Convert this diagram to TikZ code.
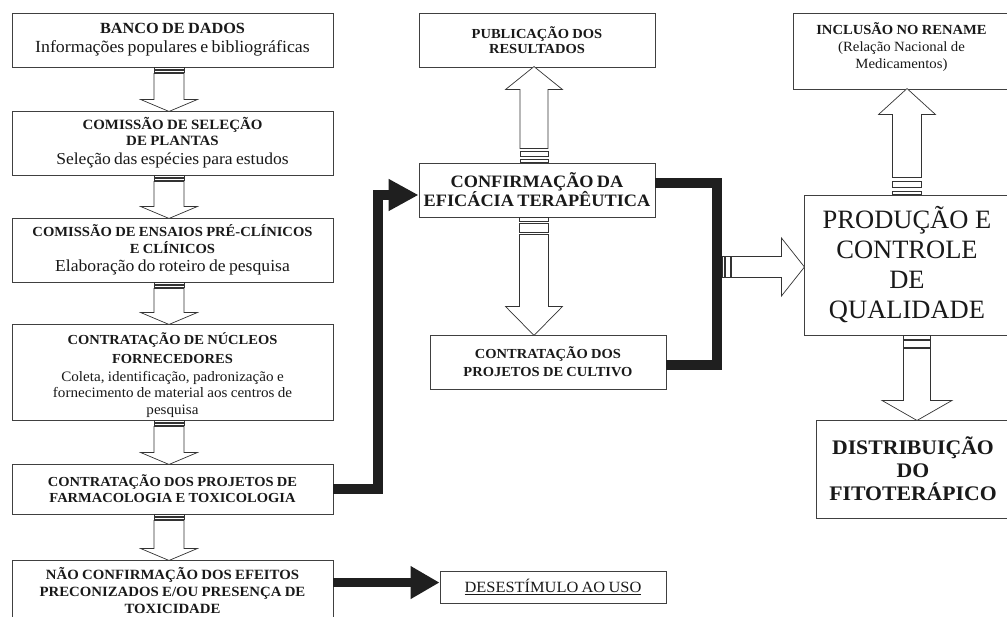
\documentclass[tikz,border=0pt]{standalone}
\usepackage{fontspec}
\setmainfont[FakeStretch=1.05]{Liberation Serif}
\newfontfamily\plainserif{Liberation Serif}
\usetikzlibrary{arrows.meta,calc}
\tikzset{
  box/.style={draw=black!75, line width=0.9bp, rectangle, inner sep=0pt, align=center, text=black!90},
  txt/.style={inner sep=0pt, align=center, text=black!90},
  hollow/.style={draw=black!80, line width=0.7bp, fill=white, line join=miter},
  blkline/.style={draw=black!88, line width=10bp, line join=miter},
  blk/.style={blkline, -{Triangle[length=30bp,width=30bp]}},
}
\newcommand\fsz[2]{\fontsize{#1bp}{#2bp}\selectfont}
\hyphenpenalty=10000
% #1 tail coordinate name, #2 angle, #3 length, #4 shaft half width, #5 head half width,
% #6 head length, #7 stripe A end, #8 stripe B start, #9 stripe B end
\newcommand\BArrow[9]{%
  \begin{scope}[shift={(#1)},rotate=#2]
    \draw[hollow] (0,-#4) rectangle (#7,#4);
    \draw[hollow] (#8,-#4) rectangle (#9,#4);
    \draw[hollow] ({#9+#8-#7},-#4) -- ({#3-#6},-#4) -- ({#3-#6},-#5) -- (#3,0)
      -- ({#3-#6},#5) -- ({#3-#6},#4) -- ({#9+#8-#7},#4) -- cycle;
  \end{scope}}
\begin{document}
\begin{tikzpicture}[x=1bp,y=-1bp]
\useasboundingbox (0,0) rectangle (1007,617);
\clip (0,0) rectangle (1007,617);
\fill[white] (0,0) rectangle (1007,617);

% left column
\node[box, minimum width=321bp, minimum height=54bp, text width=319bp] (b1) at (172.5,40)
  {{\bfseries\fsz{15.5}{18}BANCO DE DADOS\par}{\fsz{17}{19}Informações populares e bibliográficas\par}};
\node[box, minimum width=321bp, minimum height=64bp, text width=319bp] (b2) at (172.5,143)
  {{\bfseries\fsz{14.2}{16}COMISSÃO DE SELEÇÃO\\DE PLANTAS\par}{\fsz{16.7}{19}Seleção das espécies para estudos\par}};
\node[box, minimum width=321bp, minimum height=64bp, text width=319bp] (b3) at (172.5,250)
  {{\bfseries\fsz{13.9}{17}COMISSÃO DE ENSAIOS PRÉ-CLÍNICOS\\E CLÍNICOS\par}{\fsz{16.8}{18}Elaboração do roteiro de pesquisa\par}};
\node[box, minimum width=321bp, minimum height=96bp] (b4) at (172.5,372) {};
\node[txt, text width=319bp] (b4t) at ($(b4.center)+(0,3)$)
  {{\bfseries\fsz{13.8}{19}CONTRATAÇÃO DE NÚCLEOS\\FORNECEDORES\par}\vspace{1bp}{\fsz{14.4}{16.5}Coleta, identificação, padronização e\\fornecimento de material aos centros de\\pesquisa\par}};
\node[box, minimum width=321bp, minimum height=50bp, text width=319bp] (b5) at (172.5,489)
  {{\bfseries\fsz{13.8}{16}CONTRATAÇÃO DOS PROJETOS DE\\FARMACOLOGIA E TOXICOLOGIA\par}};
\node[box, minimum width=321bp, minimum height=62bp, text width=319bp] (b6) at (172.5,591)
  {{\bfseries\fsz{14.1}{17}NÃO CONFIRMAÇÃO DOS EFEITOS\\PRECONIZADOS E/OU PRESENÇA DE\\TOXICIDADE\par}};

% middle column
\node[box, minimum width=236bp, minimum height=54bp, text width=234bp] (pub) at (537,40)
  {{\bfseries\fsz{13.8}{15}PUBLICAÇÃO DOS\\RESULTADOS\par}};
\node[box, minimum width=236bp, minimum height=54bp, text width=234bp] (conf) at (537,190)
  {{\bfseries\fsz{17.4}{19}CONFIRMAÇÃO DA\\EFICÁCIA TERAPÊUTICA\par}};
\node[box, minimum width=236bp, minimum height=54bp, text width=234bp] (cult) at (548,362)
  {{\bfseries\fsz{13.8}{18}CONTRATAÇÃO DOS\\PROJETOS DE CULTIVO\par}};
\node[box, minimum width=226bp, minimum height=32bp, text width=224bp] (des) at (553,587)
  {{\fsz{15.6}{17}\underline{DESESTÍMULO AO USO}\par}};

% right column
\node[box, minimum width=217bp, minimum height=76bp, text width=215bp] (inc) at (901.5,51)
  {{\bfseries\fsz{13.9}{17}INCLUSÃO NO RENAME\par}{\fsz{14.1}{17}(Relação Nacional de\\Medicamentos)\par}\vspace{8bp}};
\node[box, minimum width=206bp, minimum height=140bp, text width=204bp] (prod) at (907,265)
  {{\plainserif\fsz{26.5}{30}PRODUÇÃO\hspace{0.25em}E\\CONTROLE\\DE\\QUALIDADE\par}};
\node[box, minimum width=194bp, minimum height=98bp, text width=192bp] (dist) at (913,469)
  {{\bfseries\fsz{20.7}{23}DISTRIBUIÇÃO\\DO\\FITOTERÁPICO\par}};

% hollow block arrows
\coordinate (t1) at ($(b1.south)+(-3.5,0)$);
\coordinate (t2) at ($(b2.south)+(-3.5,0)$);
\coordinate (t3) at ($(b3.south)+(-3.5,0)$);
\coordinate (t4) at ($(b4.south)+(-3.5,0)$);
\coordinate (t5) at ($(b5.south)+(-3.5,0)$);
\BArrow{t1}{-90}{44}{15}{28.5}{12}{2}{3}{5}
\BArrow{t2}{-90}{43}{15}{28.5}{12}{2}{3}{5}
\BArrow{t3}{-90}{42}{15}{28.5}{12}{2}{3}{5}
\BArrow{t4}{-90}{44}{15}{28.5}{12}{2}{3}{5}
\BArrow{t5}{-90}{46}{15}{28.5}{12}{2}{3}{5}

\coordinate (tp) at ($(conf.north)+(-3,0)$);
\coordinate (tc) at ($(conf.south)+(-3,0)$);
\BArrow{tp}{90}{96}{14}{28.5}{23}{3}{6}{11}
\BArrow{tc}{-90}{118}{14.5}{28.5}{29}{4}{6}{15}

\coordinate (ti) at (prod.north);
\coordinate (td) at ($(prod.south)+(10,0)$);
\BArrow{ti}{90}{106}{14.5}{28.5}{26}{3}{7}{13}
\BArrow{td}{-90}{85}{13.5}{35}{20}{4}{5}{12}

% black connectors
\draw[blk] (b5.east) -- ++(45,0) |- ($(conf.west)+(0,5)$);
\draw[blkline] ($(conf.east)+(0,-7)$) -| ($(cult.east)+(51,3)$) -- ($(cult.east)+(0,3)$);
\coordinate (rt) at ($(cult.east)+(56,-95)$);
\BArrow{rt}{0}{82}{10.5}{29}{23}{2}{3}{8}
\coordinate (d0) at ($(b6.north east)+(0,23)$);
\draw[blkline, line width=9bp, -{Triangle[length=29bp,width=31bp]}] (d0) -- (d0 -| des.west);
\end{tikzpicture}
\end{document}
